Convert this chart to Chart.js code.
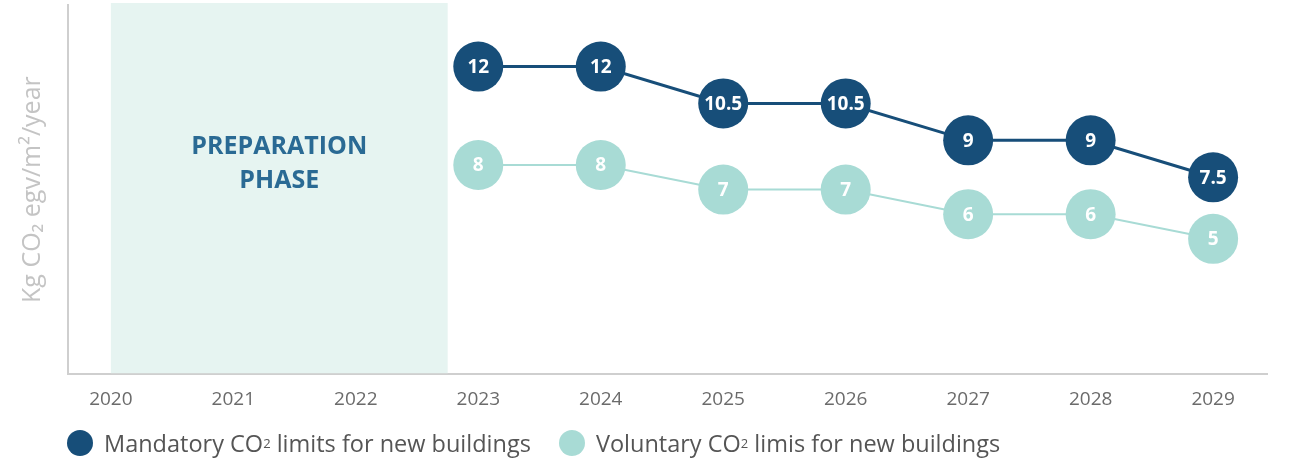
<!DOCTYPE html>
<html>
<head>
<meta charset="utf-8">
<script src="https://cdn.jsdelivr.net/npm/chart.js@4"></script>
<style>
  body { margin: 0; background: #fff; }
  #wrap { position: relative; width: 1290px; height: 472px; }
  #legend {
    position: absolute; left: 67px; top: 427px;
    font-family: 'Open Sans', sans-serif; font-size: 23.5px; color: #555;
    display: flex; gap: 28px; white-space: nowrap;
  }
  .item { display: flex; align-items: center; }
  .dot { width: 26px; height: 26px; border-radius: 50%; margin-right: 11px; }
  sub { font-size: 13px; }
</style>
</head>
<body>
<div id="wrap">
  <canvas id="chart" width="1290" height="472"></canvas>
  <div id="legend">
    <div class="item"><span class="dot" style="background:#174e79"></span>Mandatory CO<sub>2</sub>&nbsp;limits for new buildings</div>
    <div class="item"><span class="dot" style="background:#a8dbd5"></span>Voluntary CO<sub>2</sub>&nbsp;limis for new buildings</div>
  </div>
</div>
<script>
const tickYears = [2020, 2021, 2022, 2023, 2024, 2025, 2026, 2027, 2028, 2029];
const years = [2023, 2024, 2025, 2026, 2027, 2028, 2029];
const mandatory = [12, 12, 10.5, 10.5, 9, 9, 7.5];
const voluntary = [8, 8, 7, 7, 6, 6, 5];
const prepStart = 2020;
const prepEnd = 2022.75;

const darkBlue = '#174e79';
const lightTeal = '#a8dbd5';

function toPoints(values) {
    return years.map(function (yr, i) {
        return { x: yr, y: values[i] };
    });
}

// shaded preparation phase box, drawn under the lines
const prepPhase = {
    id: 'prepPhase',
    beforeDatasetsDraw(chart) {
        const ctx = chart.ctx;
        const x = chart.scales.x;
        const area = chart.chartArea;
        const left = x.getPixelForValue(prepStart);
        const right = x.getPixelForValue(prepEnd);
        ctx.save();
        ctx.fillStyle = '#e6f4f1';
        ctx.fillRect(left, area.top - 2, right - left, area.bottom - area.top + 1);
        ctx.fillStyle = '#2a6a94';
        ctx.font = 'bold 25px "Open Sans", sans-serif';
        ctx.textAlign = 'center';
        ctx.textBaseline = 'middle';
        const cx = (left + right) / 2;
        ctx.fillText('PREPARATION', cx, 147);
        ctx.fillText('PHASE', cx, 181);
        ctx.restore();
    }
};

// value labels inside the circles
const pointLabels = {
    id: 'pointLabels',
    afterDatasetsDraw(chart) {
        const ctx = chart.ctx;
        ctx.save();
        ctx.fillStyle = '#fff';
        ctx.font = 'bold 19px "Open Sans", sans-serif';
        ctx.textAlign = 'center';
        ctx.textBaseline = 'middle';
        chart.data.datasets.forEach(function (ds, i) {
            chart.getDatasetMeta(i).data.forEach(function (pt, j) {
                ctx.fillText(String(ds.data[j].y), pt.x, pt.y + 1);
            });
        });
        ctx.restore();
    }
};

new Chart(document.getElementById('chart').getContext('2d'), {
    type: 'line',
    data: {
        datasets: [{
            label: 'Mandatory',
            data: toPoints(mandatory),
            borderColor: darkBlue,
            backgroundColor: darkBlue,
            borderWidth: 3,
            pointRadius: 25,
            pointBorderWidth: 0,
            tension: 0
        }, {
            label: 'Voluntary',
            data: toPoints(voluntary),
            borderColor: lightTeal,
            backgroundColor: lightTeal,
            borderWidth: 2,
            pointRadius: 25,
            pointBorderWidth: 0,
            tension: 0
        }]
    },
    options: {
        responsive: false,
        animation: false,
        clip: false,
        layout: {
            autoPadding: false,
            padding: { left: 18, right: 23, top: 5, bottom: 55 }
        },
        scales: {
            x: {
                type: 'linear',
                min: 2019.65,
                max: 2029.44,
                grid: { display: false },
                border: { display: true, color: '#cfcfcf', width: 2 },
                afterBuildTicks(scale) {
                    scale.ticks = tickYears.map(function (v) { return { value: v }; });
                },
                ticks: {
                    padding: 6,
                    color: '#6b6b6b',
                    font: { family: '"Open Sans", sans-serif', size: 19 },
                    callback: function (v) { return String(v); }
                }
            },
            y: {
                min: -0.5,
                max: 14.5,
                grid: { display: false },
                border: { display: true, color: '#cfcfcf', width: 2 },
                ticks: { display: false },
                title: {
                    display: true,
                    text: 'Kg CO\u2082 egv/m\u00b2/year',
                    color: '#c4c4c4',
                    font: { family: '"Open Sans", sans-serif', size: 25 },
                    padding: { top: 0, bottom: 12 }
                }
            }
        },
        plugins: {
            legend: { display: false },
            tooltip: { enabled: false }
        }
    },
    plugins: [prepPhase, pointLabels]
});
</script>
</body>
</html>
